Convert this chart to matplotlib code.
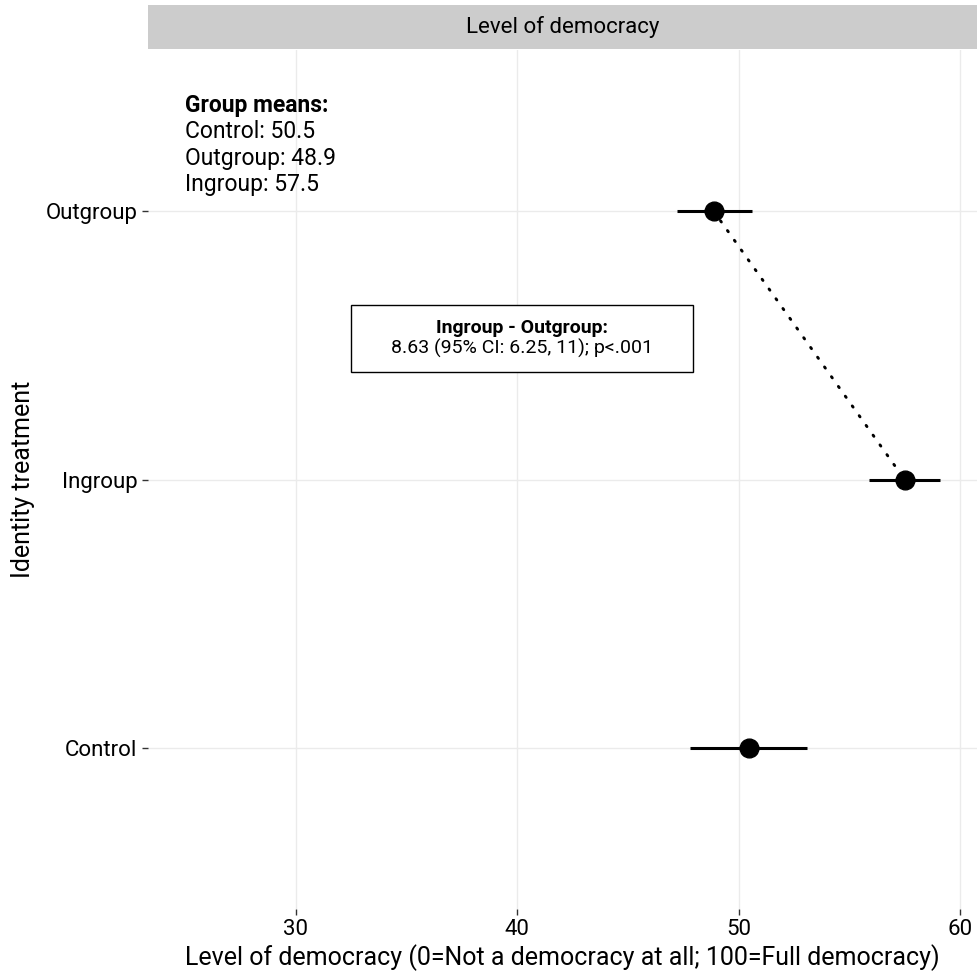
import numpy as np
import matplotlib
matplotlib.use("Agg")
import matplotlib.pyplot as plt
from matplotlib.patches import Rectangle

plt.rcParams['font.family'] = ['Roboto', 'DejaVu Sans']

# data
groups = ["Control", "Ingroup", "Outgroup"]
means = [50.45, 57.5, 48.87]
ci_low = [47.8, 55.9, 47.2]
ci_high = [53.1, 59.1, 50.6]

mean_lines = ["Control: 50.5", "Outgroup: 48.9", "Ingroup: 57.5"]
diff_title = "Ingroup - Outgroup:"
diff_text = "8.63 (95% CI: 6.25, 11); p<.001"

W, H = 977, 980
fig = plt.figure(figsize=(W / 100, H / 100), dpi=100)

# panel, placed in pixels like the ggplot original
left, right, top, bottom = 148, 977, 50, 909
ax = fig.add_axes([left / W, 1 - bottom / H, (right - left) / W, (bottom - top) / H])
strip = fig.add_axes([left / W, 1 - 49 / H, (right - left) / W, 44 / H])

ypos = np.arange(1, len(groups) + 1)

ax.set_xlim(23.32, 60.77)
ax.set_ylim(0.4, 3.6)
ax.set_xticks([30, 40, 50, 60])
ax.set_yticks(ypos)
ax.set_yticklabels(groups)
ax.grid(True, color="#ebebeb", linewidth=1)
ax.set_axisbelow(True)
for s in ax.spines.values():
    s.set_visible(False)
ax.tick_params(axis="both", colors="#333333", labelcolor="black", labelsize=16,
               length=4, width=1)

# dotted line between outgroup and ingroup
ax.plot([means[2], means[1]], [ypos[2], ypos[1]], color="black", linewidth=2.1,
        linestyle=(0, (0.5, 3.6)), dash_capstyle="round", zorder=2)

ax.hlines(ypos, ci_low, ci_high, color="black", linewidth=2.2, zorder=3)
ax.plot(means, ypos, "o", color="black", markersize=13.5, zorder=4)

# group means text
ax.text(25, 3.435, "Group means:", fontsize=16.5, fontweight="bold", va="top", ha="left")
for i, line in enumerate(mean_lines):
    ax.text(25, 3.435 - (i + 1) * 0.0975, line, fontsize=16.5, va="top", ha="left")

# difference box
ax.add_patch(Rectangle((32.48, 2.40), 47.93 - 32.48, 0.25, facecolor="white",
                       edgecolor="black", linewidth=1, zorder=3))
ax.text(40.2, 2.566, diff_title, fontsize=14, fontweight="bold", ha="center",
        va="center", zorder=4)
ax.text(40.2, 2.488, diff_text, fontsize=14, ha="center", va="center", zorder=4)

ax.set_xlabel("Level of democracy (0=Not a democracy at all; 100=Full democracy)",
              fontsize=18, labelpad=3)
ax.set_ylabel("Identity treatment", fontsize=18, labelpad=8)

strip.set_facecolor("#cccccc")
strip.set_xticks([])
strip.set_yticks([])
for s in strip.spines.values():
    s.set_visible(False)
strip.text(0.5, 0.5, "Level of democracy", fontsize=16, ha="center", va="center",
           transform=strip.transAxes)

fig.savefig("out.png", dpi=100, facecolor="white")
